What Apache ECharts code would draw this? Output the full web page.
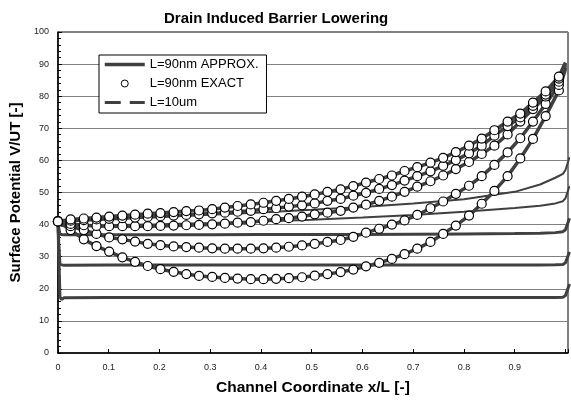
<!DOCTYPE html>
<html>
<head>
<meta charset="utf-8">
<script src="https://cdn.jsdelivr.net/npm/echarts@6/dist/echarts.min.js"></script>
<style>
html, body { margin: 0; padding: 0; background: #fff; }
#chart { width: 571px; height: 403px; }
</style>
</head>
<body>
<div id="chart"></div>
<script>
// Channel positions of the exact (simulated) points, x/L
const xExact = [0, 0.025, 0.051, 0.076, 0.101, 0.127, 0.152, 0.177, 0.202, 0.228,
  0.253, 0.278, 0.304, 0.329, 0.354, 0.38, 0.405, 0.43, 0.455, 0.481,
  0.506, 0.531, 0.557, 0.582, 0.607, 0.633, 0.658, 0.683, 0.708, 0.734,
  0.759, 0.784, 0.81, 0.835, 0.86, 0.886, 0.911, 0.936, 0.961, 0.987];

// L=90nm exact surface potential, one list per bias
const exactA = [41.0, 38.3, 35.4, 33.3, 31.6, 29.8, 28.4, 27.1, 26.1, 25.3,
  24.6, 24.0, 23.7, 23.4, 23.2, 23.0, 23.0, 23.1, 23.3, 23.6,
  24.1, 24.6, 25.2, 26.0, 27.0, 28.1, 29.3, 30.8, 32.5, 34.6,
  37.1, 39.7, 42.8, 46.5, 50.5, 55.1, 60.6, 66.7, 73.8, 81.8];
const exactB = [41.0, 39.5, 38.3, 37.1, 36.0, 35.4, 34.7, 34.0, 33.6, 33.2,
  33.0, 32.8, 32.6, 32.5, 32.5, 32.5, 32.6, 32.8, 33.1, 33.5,
  34.0, 34.6, 35.2, 36.2, 37.5, 38.7, 40.0, 41.3, 43.0, 45.1,
  47.2, 49.6, 52.1, 55.1, 58.6, 62.5, 66.9, 72.1, 77.6, 83.5];
const exactC = [41.0, 40.2, 39.8, 39.6, 39.5, 39.5, 39.5, 39.5, 39.6, 39.7,
  39.8, 39.9, 40.1, 40.3, 40.6, 40.8, 41.2, 41.7, 42.0, 42.5,
  43.2, 43.7, 44.3, 45.3, 46.2, 47.4, 48.7, 50.2, 51.8, 53.5,
  55.3, 57.3, 59.5, 62.0, 64.6, 68.1, 72.1, 76.0, 79.9, 84.5];
const exactD = [41.0, 41.2, 41.4, 41.6, 41.8, 42.0, 42.2, 42.4, 42.6, 42.8,
  43.0, 43.2, 43.5, 43.7, 44.0, 44.3, 44.8, 45.1, 45.6, 46.0,
  46.6, 47.4, 48.0, 49.0, 49.9, 51.1, 52.3, 53.7, 55.1, 56.6,
  58.3, 60.1, 62.2, 64.6, 67.7, 70.7, 73.4, 77.0, 80.5, 85.5];
const exactE = [41.0, 41.6, 41.9, 42.2, 42.5, 42.8, 43.1, 43.4, 43.6, 43.9,
  44.2, 44.4, 44.8, 45.3, 45.8, 46.3, 46.8, 47.4, 48.0, 48.7,
  49.4, 50.2, 51.0, 52.0, 53.1, 54.2, 55.3, 56.7, 57.9, 59.3,
  60.8, 62.6, 64.6, 66.8, 69.4, 72.1, 74.6, 78.0, 81.5, 86.1];

// Approximate model: follows the same bias cases and ends at the drain (x/L = 1)
const approxEnd = [88.5, 89.0, 89.5, 90.0, 90.5];

// L=10um long-channel curves
const xLong = [0, 0.002, 0.004, 0.007, 0.012, 0.1, 0.2, 0.3, 0.4, 0.5,
  0.6, 0.7, 0.8, 0.9, 0.95, 0.98, 0.995, 1.0, 1.008];
const longA = [41.0, 29.0, 17.5, 16.7, 17.2, 17.3, 17.3, 17.3, 17.3, 17.3,
  17.3, 17.3, 17.3, 17.3, 17.3, 17.3, 17.4, 17.9, 21.5];
const longB = [41.0, 33.0, 27.6, 27.0, 27.3, 27.4, 27.4, 27.4, 27.4, 27.4,
  27.4, 27.4, 27.4, 27.4, 27.4, 27.5, 27.6, 28.1, 31.5];
const longC = [41.0, 38.5, 37.0, 36.6, 36.8, 36.8, 36.8, 36.8, 36.9, 36.9,
  36.9, 37.0, 37.1, 37.2, 37.3, 37.5, 37.8, 38.4, 42.0];
const longD = [41.0, 40.3, 39.8, 39.6, 39.6, 39.8, 40.1, 40.5, 41.0, 41.5,
  42.2, 43.0, 44.0, 45.2, 45.9, 46.6, 47.3, 48.2, 52.0];
const longE = [41.0, 41.1, 41.2, 41.2, 41.3, 41.8, 42.4, 43.1, 43.8, 44.6,
  45.5, 46.6, 47.9, 50.2, 52.5, 54.6, 55.8, 57.0, 61.0];

const NAME_APPROX = 'L=90nm APPROX.';
const NAME_EXACT = 'L=90nm EXACT';
const NAME_LONG = 'L=10um';

const exactSets = [exactA, exactB, exactC, exactD, exactE];
const longSets = [longA, longB, longC, longD, longE];
const LINE = '#404040';
const FONT = 'Liberation Sans';

const series = [];

longSets.forEach(function (vals, k) {
  series.push({
    name: NAME_LONG,
    type: 'line',
    symbol: 'none',
    clip: true,
    z: 2,
    itemStyle: { color: LINE },
    lineStyle: { color: LINE, width: k < 3 ? 3 : 2 },
    data: xLong.map(function (x, i) { return [x, vals[i]]; })
  });
});

exactSets.forEach(function (vals, k) {
  series.push({
    name: NAME_APPROX,
    type: 'line',
    symbol: 'none',
    clip: true,
    z: 3,
    itemStyle: { color: LINE },
    lineStyle: { color: LINE, width: 3.5 },
    data: xExact.map(function (x, i) { return [x, vals[i]]; }).concat([[1, approxEnd[k]]])
  });
});

exactSets.forEach(function (vals) {
  series.push({
    name: NAME_EXACT,
    type: 'scatter',
    symbol: 'circle',
    symbolSize: 9,
    z: 4,
    itemStyle: { color: '#fff', borderColor: '#000', borderWidth: 1.2, opacity: 1 },
    data: xExact.map(function (x, i) { return [x, vals[i]]; })
  });
});

const chart = echarts.init(document.getElementById('chart'), null, { renderer: 'canvas' });
chart.setOption({
  animation: false,
  backgroundColor: '#fff',
  title: {
    text: 'Drain Induced Barrier Lowering',
    left: 159,
    top: 6,
    textStyle: { fontFamily: FONT, fontSize: 15, fontWeight: 'bold', color: '#000' }
  },
  legend: {
    left: 99,
    top: 55,
    orient: 'vertical',
    itemWidth: 40,
    itemHeight: 7,
    itemGap: 6,
    padding: [3, 8, 4, 4],
    backgroundColor: '#fff',
    borderColor: '#000',
    borderWidth: 1,
    borderRadius: 0,
    textStyle: { fontFamily: FONT, fontSize: 13, color: '#000' },
    data: [
      { name: NAME_APPROX, itemStyle: { opacity: 0 }, lineStyle: { width: 3.5, color: LINE } },
      { name: NAME_EXACT, icon: 'circle', itemStyle: { color: '#fff', borderColor: '#000', borderWidth: 1 } },
      { name: NAME_LONG, itemStyle: { opacity: 0 }, lineStyle: { type: [16, 9], width: 3, color: LINE } }
    ]
  },
  grid: {
    left: 57, right: 0, top: 32, bottom: 50,
    show: true, borderColor: '#000', borderWidth: 1, backgroundColor: 'transparent'
  },
  xAxis: {
    type: 'value',
    min: 0,
    max: 1.005,
    interval: 0.1,
    name: 'Channel Coordinate x/L [-]',
    nameLocation: 'middle',
    nameGap: 27,
    nameTextStyle: { fontFamily: FONT, fontSize: 15.5, fontWeight: 'bold', color: '#000' },
    axisLine: { lineStyle: { color: '#000', width: 1.5 } },
    axisTick: { inside: true, length: 4, lineStyle: { color: '#000' } },
    axisLabel: {
      fontFamily: FONT, fontSize: 9, color: '#222', margin: 10,
      formatter: function (v) { return v >= 0.999 ? '' : (v === 0 ? '0' : v.toFixed(1)); }
    },
    splitLine: { show: false }
  },
  yAxis: {
    type: 'value',
    min: 0,
    max: 100,
    interval: 10,
    name: 'Surface Potential V/UT [-]',
    nameLocation: 'middle',
    nameGap: 33,
    nameTextStyle: { fontFamily: FONT, fontSize: 15, fontWeight: 'bold', color: '#000' },
    axisLine: { lineStyle: { color: '#000', width: 1.5 } },
    axisTick: { inside: true, length: 4, lineStyle: { color: '#000' } },
    minorTick: { show: true, splitNumber: 5, length: 3, lineStyle: { color: '#000' } },
    axisLabel: { fontFamily: FONT, fontSize: 9, color: '#222', margin: 9 },
    splitLine: { show: true, lineStyle: { color: '#808080', width: 1 } }
  },
  series: series
});
</script>
</body>
</html>
